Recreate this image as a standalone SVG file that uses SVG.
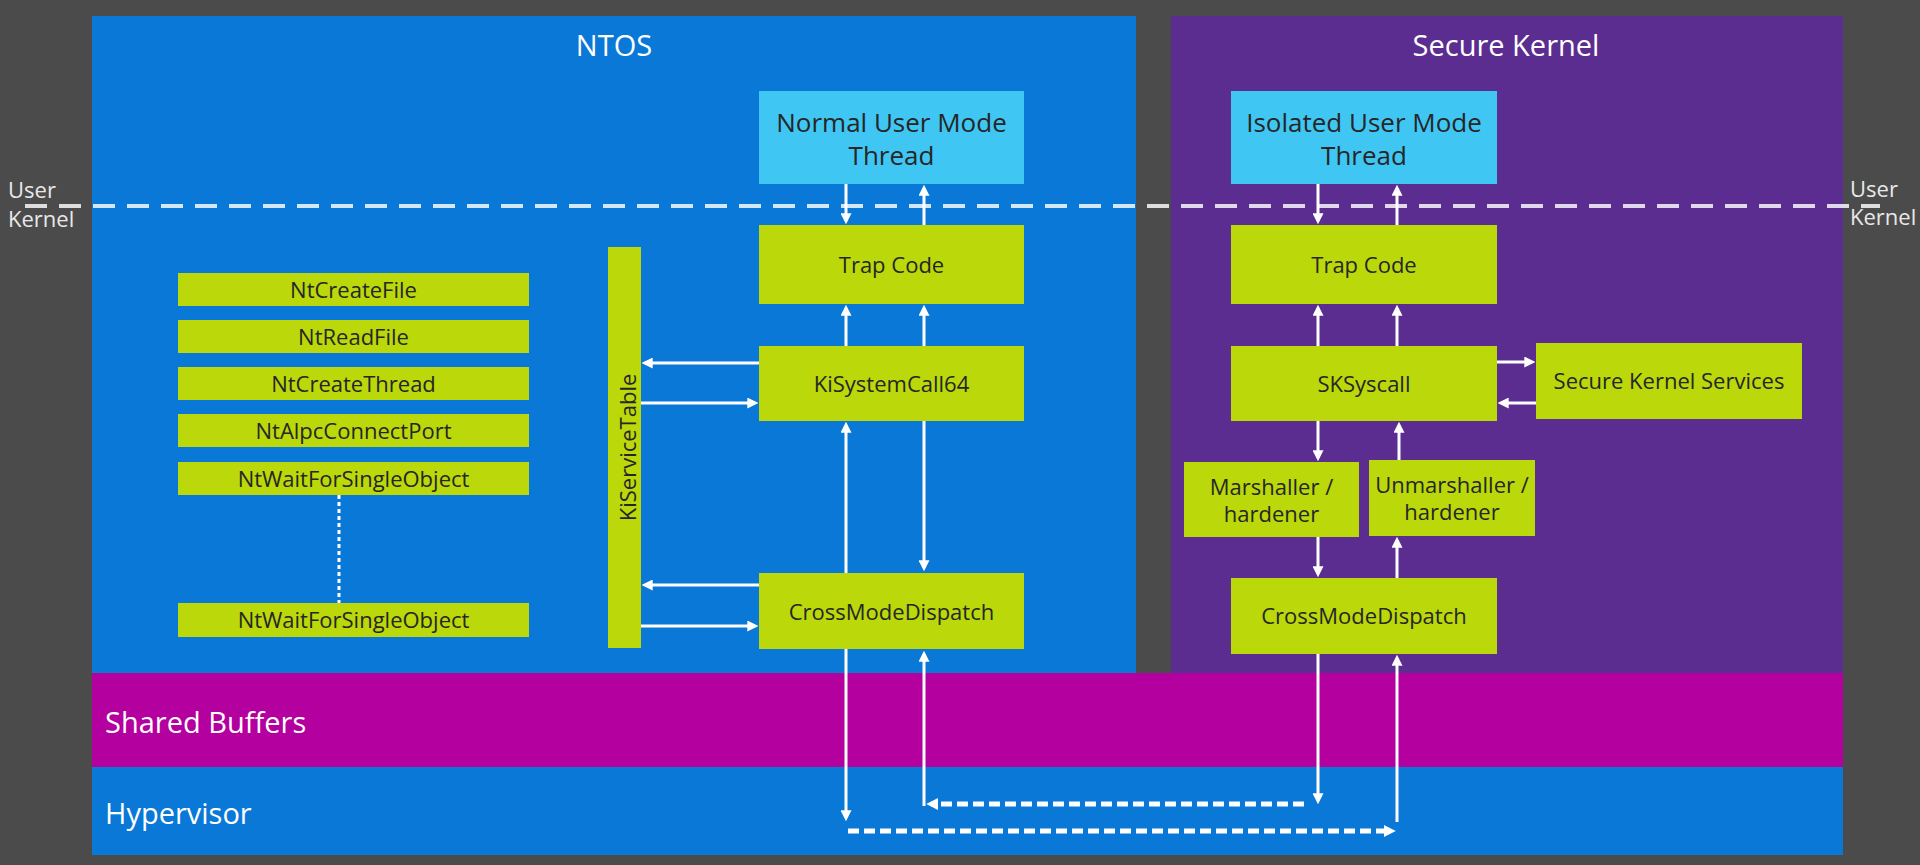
<svg xmlns="http://www.w3.org/2000/svg" width="1920" height="865" viewBox="0 0 1920 865">
<defs>
<style>
.lime{fill:#bad80a}
.cyan{fill:#40c6f3}
.bt{font-family:'Open Sans','Noto Sans',sans-serif;font-size:22px;fill:#262626;text-anchor:middle}
.tt{font-size:26px}
.wt{font-family:'Open Sans','Noto Sans',sans-serif;font-size:29px;fill:#ffffff}
.lab{font-family:'Open Sans','Noto Sans',sans-serif;font-size:22px;fill:#e8e8e8}
.arr{stroke:#ffffff;stroke-width:3;fill:none;marker-end:url(#ah)}
.darr{stroke:#ffffff;stroke-width:5;fill:none;stroke-dasharray:11 5;marker-end:url(#dh)}
</style>
<marker id="ah" viewBox="0 0 10 10" markerUnits="userSpaceOnUse" markerWidth="11" markerHeight="11" refX="7" refY="5" orient="auto">
<path d="M0,0 L10,5 L0,10 Z" fill="#ffffff"/>
</marker>
<marker id="dh" viewBox="0 0 10 10" markerUnits="userSpaceOnUse" markerWidth="12" markerHeight="13" refX="6" refY="5" orient="auto">
<path d="M0,0 L10,5 L0,10 Z" fill="#ffffff"/>
</marker>
</defs>
<rect x="0" y="0" width="1920" height="865" fill="#4b4b4b"/>

<g id="ntos">
<rect x="92" y="16" width="1044" height="658" fill="#0a78d6"/>
<text class="wt" x="614" y="56" text-anchor="middle">NTOS</text>
</g>
<g id="secure-kernel">
<rect x="1171" y="16" width="672" height="658" fill="#5c2d91"/>
<text class="wt" x="1506" y="56" text-anchor="middle">Secure Kernel</text>
</g>
<g id="shared-buffers">
<rect x="92" y="673" width="1751" height="94" fill="#b4009e"/>
<text class="wt" x="105" y="733">Shared Buffers</text>
</g>
<g id="hypervisor">
<rect x="92" y="767" width="1751" height="88" fill="#0a78d6"/>
<text class="wt" x="105" y="824">Hypervisor</text>
</g>

<g id="user-kernel-boundary">
<line x1="25" y1="206" x2="1880" y2="206" stroke="#ffffff" stroke-opacity="0.82" stroke-width="4" stroke-dasharray="22 12"/>
<text class="lab" x="8" y="198">User</text>
<text class="lab" x="8" y="227">Kernel</text>
<text class="lab" x="1850" y="197">User</text>
<text class="lab" x="1850" y="225">Kernel</text>
</g>

<g id="normal-user-mode-thread">
<rect class="cyan" x="759" y="91" width="265" height="93"/>
<text class="bt tt" x="891.5" y="131.5">Normal User Mode</text>
<text class="bt tt" x="891.5" y="165">Thread</text>
</g>
<g id="ntos-trap-code">
<rect class="lime" x="759" y="225" width="265" height="79"/>
<text class="bt" x="891.5" y="272.5">Trap Code</text>
</g>
<g id="kisystemcall64">
<rect class="lime" x="759" y="346" width="265" height="75"/>
<text class="bt" x="891.5" y="391.5">KiSystemCall64</text>
</g>
<g id="ntos-crossmodedispatch">
<rect class="lime" x="759" y="573" width="265" height="76"/>
<text class="bt" x="891.5" y="619.5">CrossModeDispatch</text>
</g>
<g id="kiservicetable">
<rect class="lime" x="608" y="247" width="33" height="401"/>
<text class="bt" transform="translate(628,447.5) rotate(-90)" x="0" y="8">KiServiceTable</text>
</g>
<g id="ntcreatefile">
<rect class="lime" x="178" y="273" width="351" height="33"/>
<text class="bt" x="353.5" y="297.5">NtCreateFile</text>
</g>
<g id="ntreadfile">
<rect class="lime" x="178" y="320" width="351" height="33"/>
<text class="bt" x="353.5" y="344.5">NtReadFile</text>
</g>
<g id="ntcreatethread">
<rect class="lime" x="178" y="367" width="351" height="33"/>
<text class="bt" x="353.5" y="391.5">NtCreateThread</text>
</g>
<g id="ntalpcconnectport">
<rect class="lime" x="178" y="414" width="351" height="33"/>
<text class="bt" x="353.5" y="438.5">NtAlpcConnectPort</text>
</g>
<g id="ntwaitforsingleobject-1">
<rect class="lime" x="178" y="462" width="351" height="33"/>
<text class="bt" x="353.5" y="486.5">NtWaitForSingleObject</text>
</g>
<g id="ntwaitforsingleobject-2">
<rect class="lime" x="178" y="603" width="351" height="34"/>
<text class="bt" x="353.5" y="628">NtWaitForSingleObject</text>
</g>

<g id="isolated-user-mode-thread">
<rect class="cyan" x="1231" y="91" width="266" height="93"/>
<text class="bt tt" x="1364" y="131.5">Isolated User Mode</text>
<text class="bt tt" x="1364" y="165">Thread</text>
</g>
<g id="sk-trap-code">
<rect class="lime" x="1231" y="225" width="266" height="79"/>
<text class="bt" x="1364" y="272.5">Trap Code</text>
</g>
<g id="sksyscall">
<rect class="lime" x="1231" y="346" width="266" height="75"/>
<text class="bt" x="1364" y="391.5">SKSyscall</text>
</g>
<g id="secure-kernel-services">
<rect class="lime" x="1536" y="343" width="266" height="76"/>
<text class="bt" x="1669" y="389">Secure Kernel Services</text>
</g>
<g id="marshaller">
<rect class="lime" x="1184" y="462" width="175" height="75"/>
<text class="bt" x="1271.5" y="495">Marshaller /</text>
<text class="bt" x="1271.5" y="521.5">hardener</text>
</g>
<g id="unmarshaller">
<rect class="lime" x="1369" y="460" width="166" height="76"/>
<text class="bt" x="1452" y="493">Unmarshaller /</text>
<text class="bt" x="1452" y="520">hardener</text>
</g>
<g id="sk-crossmodedispatch">
<rect class="lime" x="1231" y="578" width="266" height="76"/>
<text class="bt" x="1364" y="624">CrossModeDispatch</text>
</g>

<g id="connectors">
<line x1="339" y1="495" x2="339" y2="603" stroke="#ffffff" stroke-width="3" stroke-dasharray="4 3"/>
<line class="arr" x1="846" y1="184" x2="846" y2="221"/>
<line class="arr" x1="924" y1="225" x2="924" y2="188"/>
<line class="arr" x1="846" y1="346" x2="846" y2="308"/>
<line class="arr" x1="924" y1="346" x2="924" y2="308"/>
<line class="arr" x1="846" y1="573" x2="846" y2="425"/>
<line class="arr" x1="924" y1="421" x2="924" y2="568"/>
<line class="arr" x1="759" y1="363" x2="645" y2="363"/>
<line class="arr" x1="641" y1="403" x2="755" y2="403"/>
<line class="arr" x1="759" y1="585" x2="645" y2="585"/>
<line class="arr" x1="641" y1="626" x2="755" y2="626"/>
<line class="arr" x1="846" y1="649" x2="846" y2="818"/>
<line class="arr" x1="924" y1="806" x2="924" y2="654"/>

<line class="arr" x1="1318" y1="184" x2="1318" y2="221"/>
<line class="arr" x1="1397" y1="225" x2="1397" y2="188"/>
<line class="arr" x1="1318" y1="346" x2="1318" y2="308"/>
<line class="arr" x1="1397" y1="346" x2="1397" y2="308"/>
<line class="arr" x1="1318" y1="421" x2="1318" y2="458"/>
<line class="arr" x1="1399" y1="460" x2="1399" y2="425"/>
<line class="arr" x1="1318" y1="537" x2="1318" y2="574"/>
<line class="arr" x1="1397" y1="578" x2="1397" y2="540"/>
<line class="arr" x1="1497" y1="362" x2="1532" y2="362"/>
<line class="arr" x1="1536" y1="403" x2="1501" y2="403"/>
<line class="arr" x1="1318" y1="654" x2="1318" y2="801"/>
<line class="arr" x1="1397" y1="822" x2="1397" y2="658"/>

<line class="darr" x1="1304" y1="804" x2="931" y2="804"/>
<line class="darr" x1="848" y1="831" x2="1391" y2="831"/>
</g>
</svg>
